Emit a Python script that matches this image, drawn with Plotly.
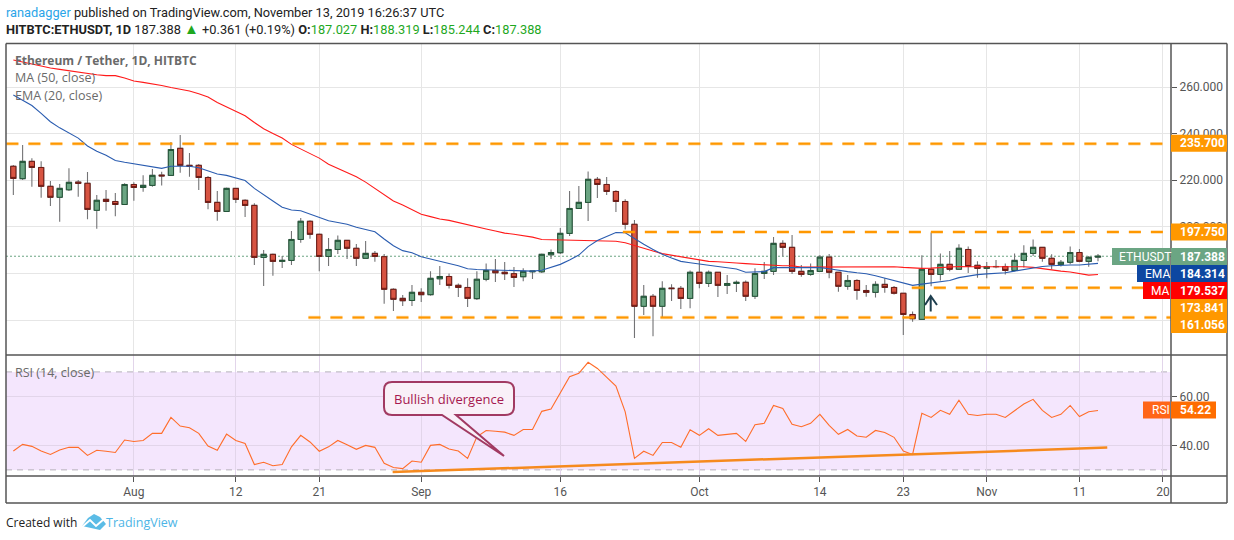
import pandas as pd
import plotly.graph_objects as go

W = 1234
H = 540

# candles, one per day from 19 Jul 2019
start_date = "2019-07-19"
opens = [226.0, 220.7, 228.1, 225.5, 217.4, 212.7, 215.9, 219.2, 218.7, 207.1, 211.8, 210.9, 209.6, 218.2, 216.9, 217.8, 222.2, 222.1, 233.7, 226.4,
         226.4, 221.2, 210.5, 206.6, 216.5, 211.4, 209.2, 186.9, 188.2, 185.2, 185.6, 194.6, 202.4, 196.8, 187.3, 190.3, 194.2, 190.8, 186.5, 188.6,
         187.2, 173.2, 169.3, 168.4, 171.9, 170.9, 177.7, 178.7, 174.9, 174.0, 169.2, 177.5, 181.3, 180.5, 179.9, 178.6, 180.7, 180.7, 188.0, 188.9,
         197.2, 207.9, 210.5, 220.4, 218.2, 215.2, 210.9, 201.1, 165.9, 170.2, 165.9, 173.7, 173.6, 169.3, 180.5, 175.7, 180.5, 174.9, 175.7, 176.2,
         170.2, 180.0, 180.9, 192.9, 191.2, 180.9, 179.6, 180.9, 187.0, 180.5, 174.5, 177.0, 172.7, 171.9, 175.3, 174.0, 171.5, 162.4, 160.3, 181.8,
         179.6, 183.9, 181.8, 190.3, 183.5, 182.2, 182.9, 183.0, 181.3, 185.6, 188.6, 191.2, 186.5, 183.9, 184.8, 189.0, 185.2, 187.027]
highs = [226.5, 235.1, 229.4, 228.2, 219.7, 218.4, 225.2, 220.1, 223.5, 213.7, 215.8, 214.5, 218.7, 219.2, 222.2, 224.8, 223.7, 236.4, 239.4, 231.7,
         227.0, 221.8, 215.4, 216.9, 216.5, 211.8, 210.1, 190.1, 188.6, 187.5, 198.2, 203.8, 202.8, 197.2, 195.2, 196.3, 194.2, 192.6, 193.9, 189.6,
         188.3, 173.6, 170.7, 175.0, 173.6, 181.0, 183.2, 180.0, 175.7, 177.9, 181.0, 184.3, 186.2, 184.9, 182.8, 182.2, 181.3, 188.6, 190.3, 199.5,
         215.4, 217.5, 223.8, 221.4, 221.4, 215.7, 211.8, 202.9, 175.0, 171.2, 176.7, 175.4, 174.6, 181.3, 185.8, 181.3, 180.7, 179.3, 177.0, 177.0,
         182.2, 184.9, 195.6, 194.3, 196.5, 183.6, 184.3, 187.9, 188.3, 180.5, 179.3, 177.5, 175.0, 176.7, 177.9, 174.6, 171.5, 163.7, 187.8, 197.6,
         188.6, 189.6, 192.5, 191.6, 185.2, 184.9, 185.8, 184.3, 188.6, 192.1, 194.6, 191.5, 188.2, 185.8, 191.6, 190.5, 187.5, 188.319]
lows = [213.7, 220.1, 217.2, 212.5, 208.9, 202.2, 215.4, 212.9, 203.3, 199.2, 206.9, 204.6, 209.6, 211.2, 215.1, 217.2, 217.7, 222.1, 223.2, 221.5,
        215.8, 207.6, 202.6, 206.6, 210.2, 204.2, 183.6, 174.6, 179.0, 182.3, 183.6, 193.2, 194.9, 181.0, 183.2, 188.3, 186.2, 183.2, 186.5, 185.0,
        167.0, 163.9, 166.0, 166.0, 167.7, 170.4, 175.0, 173.5, 169.9, 165.6, 168.6, 176.7, 176.3, 177.2, 174.2, 176.7, 177.6, 180.2, 186.2, 188.3,
        196.1, 207.9, 202.5, 212.4, 213.7, 206.4, 198.9, 152.3, 162.2, 153.1, 161.1, 168.2, 164.7, 165.1, 173.7, 174.2, 169.9, 171.2, 172.0, 168.2,
        169.0, 177.6, 179.3, 187.3, 179.8, 178.6, 179.0, 180.9, 177.9, 172.2, 173.0, 168.7, 170.0, 169.7, 171.7, 171.0, 153.6, 159.3, 160.3, 174.5,
        177.0, 180.9, 181.8, 180.2, 178.2, 177.9, 182.2, 179.6, 180.9, 182.6, 187.5, 185.0, 181.8, 183.0, 183.9, 184.8, 182.9, 185.244]
closes = [220.8, 228.1, 225.5, 217.4, 212.7, 216.5, 219.1, 218.7, 207.5, 211.4, 210.9, 209.6, 218.2, 216.9, 217.8, 222.1, 221.9, 233.2, 226.4, 226.0,
          221.2, 210.5, 206.6, 216.5, 211.8, 209.2, 186.9, 188.2, 185.2, 185.6, 194.6, 202.4, 196.8, 187.3, 190.3, 194.2, 190.8, 186.5, 188.6, 187.3,
          173.2, 168.9, 168.3, 171.9, 170.9, 177.9, 178.7, 174.9, 174.0, 169.3, 177.5, 181.3, 180.3, 179.9, 178.3, 180.9, 181.0, 188.2, 189.0, 197.2,
          207.9, 210.5, 220.4, 218.2, 215.2, 210.9, 201.1, 165.9, 170.2, 165.9, 173.6, 173.5, 169.3, 180.5, 175.7, 180.5, 174.9, 175.7, 176.2, 170.2,
          180.0, 180.9, 192.9, 191.2, 180.9, 179.6, 181.3, 187.0, 180.5, 174.5, 177.0, 172.7, 171.9, 175.3, 174.0, 171.5, 162.4, 160.6, 181.8, 179.6,
          183.9, 181.8, 190.8, 183.0, 182.2, 183.0, 183.0, 181.3, 185.6, 188.6, 191.2, 186.5, 183.9, 184.8, 189.0, 185.2, 186.9, 187.388]

ma50 = [271.6, 270.7, 269.9, 269.0, 268.2, 267.6, 267.0, 266.4, 265.7, 265.3, 264.9, 264.9, 263.9, 262.6, 262.0, 261.4, 260.7, 259.8, 259.1, 258.3,
        257.1, 255.7, 253.4, 251.6, 249.7, 247.7, 244.8, 242.1, 240.1, 238.1, 235.4, 233.4, 231.7, 229.5, 226.9, 225.1, 223.4, 221.5, 219.2, 216.5,
        213.9, 211.1, 209.4, 207.5, 205.4, 204.4, 203.4, 202.8, 201.8, 200.8, 199.9, 199.1, 198.2, 197.3, 196.8, 196.3, 195.6, 194.6, 194.5, 194.3,
        194.2, 194.2, 194.2, 194.2, 194.1, 193.8, 193.2, 191.9, 190.8, 189.6, 188.5, 187.9, 187.2, 186.5, 186.0, 185.2, 185.0, 184.9, 184.5, 184.2,
        183.9, 183.5, 183.5, 183.3, 183.3, 182.7, 182.7, 182.7, 182.7, 182.7, 182.7, 182.7, 182.9, 183.0, 183.0, 182.9, 182.6, 182.3, 182.2, 182.3,
        182.6, 182.9, 183.0, 182.9, 182.9, 183.0, 183.0, 183.0, 183.2, 182.9, 182.6, 182.0, 181.4, 181.0, 180.6, 179.9, 179.3, 179.537]
ema20 = [256.6, 254.4, 252.1, 248.7, 245.1, 242.5, 240.3, 238.1, 234.7, 232.5, 230.7, 228.5, 227.7, 227.0, 226.2, 225.5, 225.1, 226.0, 226.1, 226.0,
         225.4, 224.2, 222.7, 222.1, 220.9, 219.9, 216.5, 213.6, 211.1, 208.4, 207.2, 206.9, 205.5, 203.8, 202.6, 201.9, 201.1, 199.8, 198.8, 197.9,
         194.8, 191.9, 189.8, 188.9, 187.2, 186.3, 185.5, 184.3, 183.3, 182.0, 181.7, 181.6, 181.4, 181.2, 181.0, 180.9, 181.0, 181.4, 182.5, 183.9,
         185.8, 187.9, 191.5, 194.1, 195.9, 197.6, 197.5, 194.9, 192.5, 190.3, 188.2, 186.6, 185.2, 184.6, 184.0, 183.6, 183.0, 182.5, 181.9, 180.5,
         180.5, 180.8, 182.5, 182.5, 182.3, 182.3, 182.5, 182.5, 182.0, 181.3, 180.8, 180.3, 179.9, 179.0, 178.0, 177.2, 176.0, 174.9, 175.4, 176.0,
         176.6, 177.0, 178.2, 178.9, 179.5, 179.8, 180.0, 180.3, 181.0, 181.7, 182.5, 183.0, 183.3, 183.6, 183.6, 183.6, 183.9, 184.314]
rsi = [37.7, 40.4, 39.6, 37.7, 36.3, 38.1, 39.2, 39.2, 35.9, 38.0, 37.6, 37.1, 42.2, 41.6, 42.0, 44.9, 44.9, 51.4, 47.9, 47.2,
       44.9, 39.7, 38.0, 44.6, 42.0, 40.8, 32.2, 33.1, 31.7, 32.2, 39.4, 44.1, 41.4, 37.6, 39.4, 42.0, 40.3, 38.4, 40.0, 39.2,
       32.7, 31.0, 30.5, 33.6, 33.1, 40.0, 40.4, 38.5, 37.7, 34.7, 43.5, 46.1, 45.8, 45.4, 44.1, 46.5, 46.5, 53.9, 54.8, 61.2,
       68.0, 69.4, 73.9, 71.4, 68.0, 64.2, 53.7, 34.7, 37.6, 35.9, 41.2, 41.2, 39.2, 46.4, 44.1, 46.8, 44.1, 44.5, 44.9, 41.6,
       48.4, 49.0, 56.3, 55.1, 48.6, 47.6, 49.0, 52.7, 48.2, 44.5, 46.5, 43.8, 43.3, 46.1, 45.3, 43.3, 37.7, 36.3, 53.1, 51.4,
       54.3, 52.7, 58.4, 52.7, 52.2, 52.7, 52.7, 51.4, 54.3, 56.9, 58.8, 54.3, 51.4, 52.7, 56.3, 51.8, 53.7, 54.22]

time_tick_dates = ["2019-08-01", "2019-08-12", "2019-08-21", "2019-09-01", "2019-09-16", "2019-10-01",
                   "2019-10-14", "2019-10-23", "2019-11-01", "2019-11-11", "2019-11-20"]
time_tick_text = ["Aug", "12", "21", "Sep", "16", "Oct", "14", "23", "Nov", "11", "20"]
price_ticks = [160, 180, 200, 220, 240, 260]
# 160 and 180 sit fully behind the level boxes on the scale
price_tick_text = ["", "", "200.000", "220.000", "240.000", "260.000"]
rsi_ticks = [40, 60]

# drawn levels: price, first day of the line
levels = [(235.7, "2019-07-18 06:00"), (197.75, "2019-09-22 18:00"),
          (173.841, "2019-10-23 22:00"), (161.056, "2019-08-19 20:00")]
last_price = 187.388
trend_x = ["2019-08-28 22:00", "2019-11-14 00:00"]
trend_y = [29.1, 39.1]

dates = pd.date_range(start_date, periods=len(closes), freq="D")

UP = "#6ba583"
DOWN = "#d75442"
UP_EDGE = "#225437"
DOWN_EDGE = "#6b1a14"
WICK = "#737375"
ORANGE = "#ff9800"
GRID = "#e6e6e6"
RSI_GRID = "#e2d5ea"
FRAME = "#555555"
TEXT = "#555555"
FONT = "Open Sans"
SCALE_FONT = "Roboto"


def px(x):
    return x / W


def py(y):
    return 1 - y / H


def pan(a, b):
    return min(py(a), py(b)), max(py(a), py(b))


fig = go.Figure()

# wicks first, then the bodies on top so they can have their own outline
fig.add_trace(go.Candlestick(
    x=dates, open=opens, high=highs, low=lows, close=closes, xaxis="x", yaxis="y",
    increasing=dict(line=dict(color=WICK, width=1.1), fillcolor=UP),
    decreasing=dict(line=dict(color=WICK, width=1.1), fillcolor=DOWN),
    whiskerwidth=0, showlegend=False, hoverinfo="skip"))
body_top = [max(o, c) for o, c in zip(opens, closes)]
body_bot = [min(o, c) for o, c in zip(opens, closes)]
fig.add_trace(go.Candlestick(
    x=dates, open=opens, high=body_top, low=body_bot, close=closes, xaxis="x", yaxis="y",
    increasing=dict(line=dict(color=UP_EDGE, width=1), fillcolor=UP),
    decreasing=dict(line=dict(color=DOWN_EDGE, width=1), fillcolor=DOWN),
    whiskerwidth=0, showlegend=False, hoverinfo="skip"))

fig.add_trace(go.Scatter(x=dates, y=ma50, mode="lines", line=dict(color="#ff1a1a", width=1.1),
                         showlegend=False, hoverinfo="skip"))
fig.add_trace(go.Scatter(x=dates, y=ema20, mode="lines", line=dict(color="#2a5cb0", width=1.1),
                         showlegend=False, hoverinfo="skip"))

fig.add_trace(go.Scatter(x=dates, y=rsi, mode="lines", xaxis="x2", yaxis="y2",
                         line=dict(color="#ff6d2a", width=1.1), showlegend=False, hoverinfo="skip"))
fig.add_trace(go.Scatter(x=trend_x, y=trend_y, mode="lines", xaxis="x2", yaxis="y2",
                         line=dict(color="#f68a1e", width=2.5), showlegend=False, hoverinfo="skip"))

shapes = []
annotations = []

# rsi band
shapes.append(dict(type="rect", xref="x2 domain", yref="y2", x0=0, x1=1, y0=30, y1=70,
                   fillcolor="#f4e6fd", line_width=0, layer="below"))
for v in (30, 70):
    shapes.append(dict(type="line", xref="x2 domain", yref="y2", x0=0, x1=1, y0=v, y1=v,
                       line=dict(color="#b5b0bb", width=1, dash="6px,5px"), layer="below"))

# last price dotted line
shapes.append(dict(type="line", xref="x domain", yref="y", x0=0, x1=1, y0=last_price, y1=last_price,
                   line=dict(color=UP, width=1, dash="2px,2px"), layer="below"))

# drawn levels
for price, first in levels:
    shapes.append(dict(type="line", xref="x", yref="y", x0=first, x1="2019-11-20 20:00", y0=price, y1=price,
                       line=dict(color="rgba(255,152,0,0.35)", width=3.5, dash="12px,10px")))
    shapes.append(dict(type="line", xref="x", yref="y", x0=first, x1="2019-11-20 20:00", y0=price, y1=price,
                       line=dict(color=ORANGE, width=2, dash="12px,10px")))

# arrow under the big green candle
shapes.append(dict(type="path", xref="paper", yref="paper", line=dict(color="#1f3f4f", width=2),
                   path="M %f,%f L %f,%f L %f,%f M %f,%f L %f,%f" % (
                       px(925), py(305), px(930.7), py(296), px(937), py(305),
                       px(930.7), py(296), px(930.7), py(311.5))))

# bubble
bubble = "M %f,%f L %f,%f Q %f,%f %f,%f L %f,%f Q %f,%f %f,%f L %f,%f L %f,%f L %f,%f L %f,%f Q %f,%f %f,%f L %f,%f Q %f,%f %f,%f Z" % (
    px(392), py(382), px(505), py(382), px(514), py(382), px(514), py(390),
    px(514), py(407), px(514), py(415), px(505), py(415),
    px(456), py(415), px(504), py(456), px(442), py(415),
    px(392), py(415), px(384), py(415), px(384), py(407),
    px(384), py(390), px(384), py(382), px(392), py(382))
shapes.append(dict(type="path", xref="paper", yref="paper", path=bubble,
                   fillcolor="#f9f0f8", line=dict(color="#a13a62", width=2)))
annotations.append(dict(x=px(449), y=py(398.5), xref="paper", yref="paper", text="Bullish divergence",
                        showarrow=False, xanchor="center", yanchor="middle",
                        font=dict(family=FONT, size=13, color="#a5194f")))


def frame_line(x0, y0, x1, y1):
    shapes.append(dict(type="line", xref="paper", yref="paper", x0=px(x0), x1=px(x1), y0=py(y0), y1=py(y1),
                       line=dict(color=FRAME, width=1.5)))


frame_line(6, 43.5, 1227, 43.5)
frame_line(6, 503, 1227, 503)
frame_line(6, 43.5, 6, 503)
frame_line(1227, 43.5, 1227, 503)
frame_line(1171, 43.5, 1171, 503)
frame_line(6, 355, 1227, 355)
frame_line(6, 476, 1227, 476)


# price scale labels
def box_label(x0, x1, y_mid, color, text, text_x, text_color="white"):
    shapes.append(dict(type="rect", xref="paper", yref="paper", x0=px(x0), x1=px(x1),
                       y0=py(y_mid - 8.5), y1=py(y_mid + 8.5), fillcolor=color, line_width=0))
    annotations.append(dict(x=px(text_x), y=py(y_mid), xref="paper", yref="paper", text=text, showarrow=False,
                            xanchor="left", yanchor="middle", font=dict(family=SCALE_FONT, size=12, color=text_color)))


box_label(1171, 1227, 143.3, ORANGE, "<b>235.700</b>", 1178)
box_label(1171, 1227, 232, ORANGE, "<b>197.750</b>", 1178)
box_label(1112, 1170, 256.5, UP, "ETHUSDT", 1117)
box_label(1171, 1227, 256.5, UP, "<b>187.388</b>", 1178)
box_label(1137, 1170, 273.5, "#0d47a1", "EMA", 1143)
box_label(1171, 1227, 273.5, "#0d47a1", "<b>184.314</b>", 1178)
box_label(1143, 1170, 290.5, "#ff0000", "MA", 1149)
box_label(1171, 1227, 290.5, "#ff0000", "<b>179.537</b>", 1178)
box_label(1171, 1227, 307.5, ORANGE, "<b>173.841</b>", 1178)
box_label(1171, 1227, 324.5, ORANGE, "<b>161.056</b>", 1178)
box_label(1143, 1170, 410, "#ff6518", "RSI", 1150)
box_label(1171, 1216, 410, "#ff6d00", "<b>54.22</b>", 1178)


def label(x, y, text, size=13, color=TEXT, family=FONT):
    annotations.append(dict(x=px(x), y=py(y), xref="paper", yref="paper", text=text, showarrow=False,
                            xanchor="left", yanchor="middle", font=dict(family=family, size=size, color=color)))


# header
G = '<span style="color:#1fa81f">%s</span>'
label(4, 12, '<span style="color:#2aa5e8">ranadagger</span> published on TradingView.com, November 13, 2019 16:26:37 UTC',
      12.8, "#222222", "Roboto")
label(4, 29.5, "<b>HITBTC:ETHUSDT, 1D</b> 187.388 " + '<span style="color:#1fa81f;font-size:15px">▲</span>'
      + " +0.361 (+0.19%) <b>O:</b>" + G % "187.027"
      + " <b>H:</b>" + G % "188.319" + " <b>L:</b>" + G % "185.244" + " <b>C:</b>" + G % "187.388",
      12.8, "#222222", "Roboto")

# pane titles
label(13, 60.5, "<b>Ethereum / Tether, 1D, HITBTC</b>", 12, "#6a6a6a")
label(13, 77.5, "MA (50, close)", 12.5, "#6a6a6a")
label(13, 95, "EMA (20, close)", 12.5, "#6a6a6a")
label(13, 372, "RSI (14, close)", 12.5, "#6a6a6a")

# footer with logo
label(4, 522, "Created with", 12, "#222222")
label(104, 522, "TradingView", 12.5, "#4db5e6")
shapes.append(dict(type="path", xref="paper", yref="paper", fillcolor="#5bbce6", line_width=0,
                   path="M %f,%f L %f,%f L %f,%f L %f,%f L %f,%f L %f,%f Z" % (
                       px(82), py(526), px(88), py(518), px(94), py(514), px(100), py(517),
                       px(106), py(524), px(100), py(530))))
shapes.append(dict(type="path", xref="paper", yref="paper", line=dict(color="white", width=2),
                   path="M %f,%f L %f,%f L %f,%f L %f,%f" % (
                       px(82), py(527), px(90), py(520), px(96), py(526), px(104), py(519))))

axis_font = dict(family=SCALE_FONT, size=12, color=TEXT)
fig.update_layout(
    width=W, height=H, margin=dict(l=0, r=0, t=0, b=0),
    paper_bgcolor="white", plot_bgcolor="white", showlegend=False,
    boxmode="overlay", boxgap=0.2,
    shapes=shapes, annotations=annotations,
    xaxis=dict(domain=[px(6), px(1171)], anchor="y", range=["2019-07-18 05:00", "2019-11-20 21:00"], type="date",
               tickmode="array", tickvals=time_tick_dates, ticktext=[""] * len(time_tick_text),
               showgrid=True, gridcolor=GRID, gridwidth=1.3, rangeslider=dict(visible=False), showline=False,
               ticks="", zeroline=False),
    yaxis=dict(domain=pan(355, 43.5), anchor="x", side="right", range=[145.0, 278.7],
               tickmode="array", tickvals=price_ticks, ticktext=price_tick_text,
               showgrid=True, gridcolor=GRID, gridwidth=1.3, ticks="outside", ticklen=5, tickcolor=FRAME,
               tickfont=axis_font, zeroline=False),
    xaxis2=dict(domain=[px(6), px(1171)], anchor="y2", matches="x", type="date",
                tickmode="array", tickvals=time_tick_dates, ticktext=time_tick_text,
                showgrid=True, gridcolor=RSI_GRID, gridwidth=1, ticks="outside", ticklen=5, tickcolor=FRAME,
                tickangle=0, tickfont=dict(family=SCALE_FONT, size=12, color=TEXT), zeroline=False),
    yaxis2=dict(domain=pan(476, 355), anchor="x2", side="right", range=[27.5, 76.9],
                tickmode="array", tickvals=rsi_ticks, ticktext=["%.2f" % v for v in rsi_ticks],
                showgrid=True, gridcolor=RSI_GRID, gridwidth=1.3, ticks="outside", ticklen=5, tickcolor=FRAME,
                tickfont=axis_font, zeroline=False),
)

fig.write_html("out.html", config={"displayModeBar": False}, post_script="document.body.style.margin='0';")
